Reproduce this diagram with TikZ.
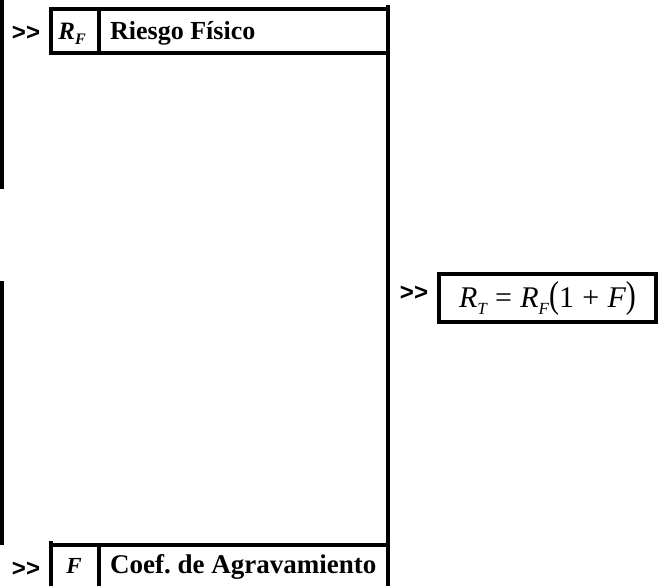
\documentclass[tikz,border=0pt]{standalone}
\usepackage{graphicx}
\usepackage{fontspec}
\setmainfont{Liberation Serif}
\newfontfamily\arialfont{Liberation Sans}
\frenchspacing
\tikzset{
  heavy/.style={line width=4pt},
  chev/.style={inner sep=0pt, anchor=center, font=\arialfont\bfseries\fontsize{24}{24}\selectfont},
  lbl/.style={inner sep=0pt, anchor=base west, font=\bfseries\fontsize{26}{30}\selectfont},
  sym/.style={inner sep=0pt, anchor=base, font=\bfseries\itshape\fontsize{25}{26}\selectfont},
  eqbox/.style={draw, line width=4pt, inner sep=0pt, minimum width=217pt, minimum height=48pt, font=\fontsize{30}{32}\selectfont},
}
\newcommand{\subsc}[1]{\raisebox{-7pt}{\fontsize{17}{17}\selectfont\itshape #1}}
\begin{document}
\begin{tikzpicture}[x=1pt,y=-1pt]
\useasboundingbox (0,0) rectangle (661,586);
% left bars
\draw[heavy] (1.5,0) -- (1.5,189);
\draw[heavy] (1.5,281) -- (1.5,545);
% main right line
\draw[heavy] (388,5) -- (388,586);
% top box
\draw[heavy] (51,9) rectangle (388,53.5);
\draw[heavy] (98.5,9) -- (98.5,53.5);
% bottom box
\draw[heavy] (51,541) -- (51,586);
\draw[heavy] (49,545) -- (388,545);
\draw[heavy] (98.5,545) -- (98.5,586);
% texts
\node[chev] (c1) at (26,33.5) {>>};
\node[chev] (c2) at (26,569) {>>};
\node[chev] (c3) at (414,293) {>>};
\node[sym] (rf) at (72,40) {R\raisebox{-5pt}{\fontsize{16}{16}\selectfont F}};
\node[lbl] (l1) at (110,39.5) {Riesgo Físico};
\node[sym, font=\bfseries\itshape\fontsize{23}{26}\selectfont] (f) at (74,573) {F};
\node[lbl, font=\bfseries\fontsize{27}{30}\selectfont] (l2) at (110,573) {Coef. de Agravamiento};
\node[eqbox] (eq) at (547.5,298) {\itshape R\subsc{T}\;\upshape=\;\itshape R\subsc{F}\upshape\scalebox{1}[1.25]{(}1\;+\;\itshape F\upshape\scalebox{1}[1.25]{)}};
\end{tikzpicture}
\end{document}
